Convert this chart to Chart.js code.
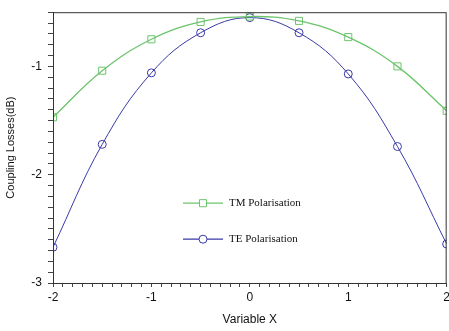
<!DOCTYPE html>
<html>
<head>
<meta charset="utf-8">
<script src="https://cdn.jsdelivr.net/npm/chart.js@4.4.0/dist/chart.umd.min.js"></script>
<style>
  html, body { margin: 0; padding: 0; background: #fff; }
  #wrap { width: 449px; height: 331px; overflow: hidden; }
  /* canvas is a little wider than the page so the plot box can run to the right edge */
  #myChart { display: block; margin-top: -1px; }
</style>
</head>
<body>
<div id="wrap"><canvas id="myChart" width="453" height="332"></canvas></div>
<script>
var xValues = [-2, -1.5, -1, -0.5, 0, 0.5, 1, 1.5, 2];
var tmValues = [-1.47, -1.04, -0.75, -0.59, -0.54, -0.58, -0.73, -1.0, -1.41];
var teValues = [-2.67, -1.72, -1.06, -0.69, -0.55, -0.69, -1.07, -1.74, -2.64];
var seriesNames = ["TM Polarisation", "TE Polarisation"];
var tmColor = "#6cc46c";
var teColor = "#3a3aa8";

function pts(ys) {
  return xValues.map(function (x, i) { return { x: x, y: ys[i] }; });
}

function intLabel(v) {
  var r = Math.round(v);
  return Math.abs(v - r) < 1e-6 ? String(r) : "";
}

// box around the plot plus the in-plot legend
var framePlugin = {
  id: "frame",
  afterDraw: function (chart) {
    var ctx = chart.ctx, a = chart.chartArea;
    ctx.save();
    ctx.strokeStyle = "#333";
    ctx.lineWidth = 1;
    ctx.strokeRect(a.left + 0.5, a.top + 0.5, a.right - a.left - 1, a.bottom - a.top);

    var lx = a.left + 130, ly = a.top + 191;
    chart.data.datasets.forEach(function (ds, i) {
      var y = ly + i * 36;
      ctx.strokeStyle = ds.borderColor;
      ctx.lineWidth = 1.2;
      ctx.beginPath();
      ctx.moveTo(lx, y);
      ctx.lineTo(lx + 40, y);
      ctx.stroke();
      ctx.fillStyle = "#fff";
      ctx.lineWidth = 1;
      Chart.helpers.drawPoint(ctx, {
        pointStyle: ds.pointStyle, radius: ds.pointRadius, borderWidth: 1
      }, lx + 20, y);
      ctx.fillStyle = "#111";
      ctx.font = "11px 'Liberation Serif'";
      ctx.textBaseline = "middle";
      ctx.fillText(ds.label, lx + 46, y);
    });
    ctx.restore();
  }
};

new Chart("myChart", {
  type: "line",
  data: {
    datasets: [{
      label: seriesNames[0],
      data: pts(tmValues),
      borderColor: tmColor,
      backgroundColor: "rgba(0,0,0,0)",
      borderWidth: 1.3,
      pointStyle: "rect",
      pointRadius: 5,
      pointBorderWidth: 1,
      tension: 0.4
    }, {
      label: seriesNames[1],
      data: pts(teValues),
      borderColor: teColor,
      backgroundColor: "rgba(0,0,0,0)",
      borderWidth: 1,
      pointStyle: "circle",
      pointRadius: 4,
      pointBorderWidth: 1,
      tension: 0.4
    }]
  },
  options: {
    responsive: false,
    animation: false,
    layout: { padding: { left: 0, right: 0, top: 5, bottom: 0 } },
    plugins: { legend: { display: false }, tooltip: { enabled: false } },
    scales: {
      x: {
        type: "linear",
        min: -2, max: 2,
        afterFit: function (s) { s.height = 48; },
        border: { color: "#444" },
        grid: { drawOnChartArea: false, tickLength: 4, color: "#444" },
        ticks: {
          stepSize: 0.1, autoSkip: false, maxRotation: 0,
          color: "#111", font: { family: "Liberation Sans", size: 12 },
          padding: 3,
          callback: function (v) { return intLabel(v); }
        },
        title: {
          display: true, text: "Variable X", color: "#111",
          font: { family: "Liberation Sans", size: 12 }, padding: { top: 2 }
        }
      },
      y: {
        type: "linear",
        min: -3, max: -0.5,
        afterFit: function (s) { s.width = 53; },
        border: { color: "#444" },
        grid: { drawOnChartArea: false, tickLength: 5, color: "#444" },
        ticks: {
          stepSize: 0.1, autoSkip: false,
          color: "#111", font: { family: "Liberation Sans", size: 12 },
          padding: 6,
          callback: function (v) { return intLabel(v); }
        },
        title: {
          display: true, text: "Coupling Losses(dB)", color: "#111",
          font: { family: "Liberation Sans", size: 11 }, padding: { bottom: 0 }
        }
      }
    }
  },
  plugins: [framePlugin]
});
</script>
</body>
</html>
